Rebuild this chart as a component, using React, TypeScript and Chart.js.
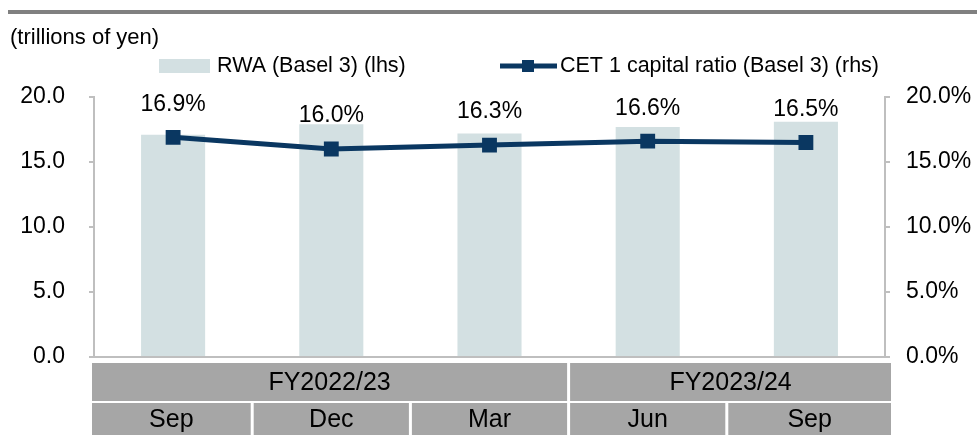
import React, { useEffect, useRef } from 'react';
import { Chart, registerables } from 'chart.js';

Chart.register(...registerables);

const months = ['Sep', 'Dec', 'Mar', 'Jun', 'Sep'];
const fiscalYears = ['FY2022/23', 'FY2023/24'];
const fiscalYearSpans = [3, 2];
const rwa = [17.1, 17.9, 17.2, 17.7, 18.1];
const cet1 = [16.9, 16.0, 16.3, 16.6, 16.5];
const unitLabel = '(trillions of yen)';
const rwaLabel = 'RWA (Basel 3) (lhs)';
const cetLabel = 'CET 1 capital ratio (Basel 3) (rhs)';

const FONT = 'Arial, "Liberation Sans", sans-serif';
const BAR = '#d3e0e2';
const LINE = '#0a3761';
const AXIS = '#bfbfbf';
const TABLE = '#a6a6a6';

const decor = {
  id: 'decor',
  afterDraw(chart: any) {
    const ctx = chart.ctx as CanvasRenderingContext2D;
    const x = chart.scales.x;
    const area = chart.chartArea;
    ctx.save();

    // top rule
    ctx.fillStyle = '#808080';
    ctx.fillRect(8, 10, chart.width - 8, 4);

    // unit label
    ctx.fillStyle = '#000';
    ctx.textBaseline = 'middle';
    ctx.textAlign = 'left';
    ctx.font = `22px ${FONT}`;
    ctx.fillText(unitLabel, 10, 38);

    // legend
    const ly = 66;
    ctx.fillStyle = BAR;
    ctx.fillRect(159, ly - 7, 51, 14);
    ctx.fillStyle = '#000';
    ctx.font = `21.5px ${FONT}`;
    ctx.fillText(rwaLabel, 217, ly);
    ctx.strokeStyle = LINE;
    ctx.lineWidth = 5;
    ctx.beginPath();
    ctx.moveTo(500, ly);
    ctx.lineTo(557, ly);
    ctx.stroke();
    ctx.fillStyle = LINE;
    ctx.fillRect(528 - 6, ly - 6, 12, 12);
    ctx.fillStyle = '#000';
    ctx.fillText(cetLabel, 560, ly);

    // data labels
    const meta = chart.getDatasetMeta(1);
    ctx.textAlign = 'center';
    ctx.font = `23px ${FONT}`;
    meta.data.forEach((pt: any, i: number) => {
      ctx.fillText(cet1[i].toFixed(1) + '%', pt.x, pt.y - 33);
    });

    // category table
    const n = months.length;
    const edges: number[] = [];
    for (let i = 0; i <= n; i++) {
      if (i === 0) edges.push(x.left - 2);
      else if (i === n) edges.push(x.right + 6);
      else edges.push((x.getPixelForValue(i - 1) + x.getPixelForValue(i)) / 2);
    }
    const gap = 1.5;
    const r1Top = area.bottom + 6;
    const r1Bot = r1Top + 38;
    const r2Top = r1Bot + 2;
    const r2Bot = chart.height;
    ctx.font = `25px ${FONT}`;
    // fiscal year row
    let start = 0;
    fiscalYears.forEach((fy, g) => {
      const end = start + fiscalYearSpans[g];
      const l = edges[start] + (start > 0 ? gap : 0);
      const r = edges[end] - (end < n ? gap : 0);
      ctx.fillStyle = TABLE;
      ctx.fillRect(l, r1Top, r - l, r1Bot - r1Top);
      ctx.fillStyle = '#000';
      ctx.fillText(fy, (l + r) / 2, (r1Top + r1Bot) / 2 + 1);
      start = end;
    });
    // month row
    months.forEach((m, i) => {
      const l = edges[i] + (i > 0 ? gap : 0);
      const r = edges[i + 1] - (i < n - 1 ? gap : 0);
      ctx.fillStyle = TABLE;
      ctx.fillRect(l, r2Top, r - l, r2Bot - r2Top);
      ctx.fillStyle = '#000';
      ctx.fillText(m, (l + r) / 2, (r2Top + r2Bot) / 2 + 1);
    });
    ctx.restore();
  },
};

export default function App() {
  const ref = useRef<HTMLCanvasElement | null>(null);
  useEffect(() => {
    document.body.style.margin = '0';
    const canvas = ref.current;
    if (!canvas) return;
    const chart = new Chart(canvas, {
      type: 'bar',
      data: {
        labels: months.map((m, i) => `${m}-${i}`),
        datasets: [
          {
            type: 'bar',
            label: rwaLabel,
            data: rwa,
            backgroundColor: BAR,
            borderWidth: 0,
            barPercentage: 0.405,
            categoryPercentage: 1,
            yAxisID: 'y',
            order: 2,
          },
          {
            type: 'line',
            label: cetLabel,
            data: cet1,
            borderColor: LINE,
            backgroundColor: LINE,
            borderWidth: 5,
            pointStyle: 'rect',
            pointRadius: 10.5,
            pointHoverRadius: 10.5,
            pointBorderWidth: 0,
            tension: 0,
            yAxisID: 'y1',
            order: 1,
          },
        ],
      } as any,
      options: {
        responsive: false,
        animation: false,
        events: [],
        layout: { padding: { top: 97, bottom: 78, left: 0, right: 0 } },
        plugins: {
          legend: { display: false },
          tooltip: { enabled: false },
          title: { display: false },
        },
        scales: {
          x: {
            grid: { display: false },
            ticks: { display: false },
            border: { display: true, color: AXIS, width: 2 },
            afterFit: (s: any) => { s.height = 0; },
          },
          y: {
            position: 'left',
            min: 0,
            max: 20,
            ticks: {
              stepSize: 5,
              padding: 24,
              color: '#000',
              font: { family: FONT, size: 23 },
              callback: (v: any) => Number(v).toFixed(1),
            },
            grid: { drawOnChartArea: false, drawTicks: true, tickLength: 5, color: AXIS, lineWidth: 2 },
            border: { display: true, color: AXIS, width: 2 },
            afterFit: (s: any) => { s.width = 94; },
          },
          y1: {
            position: 'right',
            min: 0,
            max: 20,
            ticks: {
              stepSize: 5,
              padding: 16,
              color: '#000',
              font: { family: FONT, size: 23 },
              callback: (v: any) => Number(v).toFixed(1) + '%',
            },
            grid: { drawOnChartArea: false, drawTicks: true, tickLength: 5, color: AXIS, lineWidth: 2 },
            border: { display: true, color: AXIS, width: 2 },
            afterFit: (s: any) => { s.width = 92; },
          },
        },
      } as any,
      plugins: [decor],
    });
    return () => chart.destroy();
  }, []);
  return <canvas ref={ref} width={977} height={435} style={{ display: 'block' }} />;
}
